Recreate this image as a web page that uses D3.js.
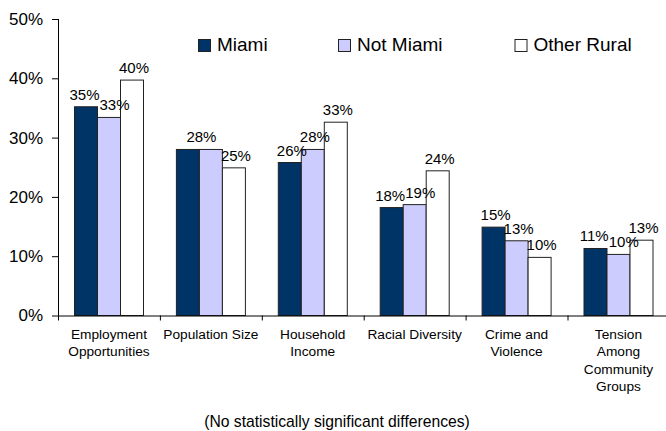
<!DOCTYPE html>
<html>
<head>
<meta charset="utf-8">
<script src="https://cdn.jsdelivr.net/npm/d3@7"></script>
<style>
  body { margin: 0; background: #fff; }
  text { font-family: "Liberation Sans", Arial, sans-serif; fill: #000; }
</style>
</head>
<body>
<div id="chart"></div>
<script>
(function() {
  var width = 666,
      height = 431;

  // chart data
  var categories = [
    ["Employment", "Opportunities"],
    ["Population Size"],
    ["Household", "Income"],
    ["Racial Diversity"],
    ["Crime and", "Violence"],
    ["Tension", "Among", "Community", "Groups"]
  ];
  var seriesNames = ["Miami", "Not Miami", "Other Rural"];
  var miami      = [35.2, 28.0, 25.8, 18.2, 14.9, 11.3];
  var notMiami   = [33.4, 28.0, 28.0, 18.7, 12.6, 10.3];
  var otherRural = [39.7, 24.9, 32.6, 24.4, 9.8, 12.7];
  var miamiLabels      = ["35%", "28%", "26%", "18%", "15%", "11%"];
  var notMiamiLabels   = ["33%", "28%", "28%", "19%", "13%", "10%"];
  var otherRuralLabels = ["40%", "25%", "33%", "24%", "10%", "13%"];
  var yTicks = [0, 10, 20, 30, 40, 50];
  var footnote = "(No statistically significant differences)";

  var colors = ["#003366", "#ccccff", "#ffffff"];
  var seriesValues = [miami, notMiami, otherRural];
  var seriesLabels = [miamiLabels, notMiamiLabels, otherRuralLabels];

  var svg = d3.select("#chart")
      .append("svg")
      .attr("width", width)
      .attr("height", height);

  var left = 58, top = 19, bottom = 315.5, step = 101.9;

  var x = d3.scaleBand()
      .domain(d3.range(categories.length))
      .range([left, left + step * categories.length])
      .padding(0);

  var xs = d3.scaleBand()
      .domain(d3.range(seriesNames.length))
      .range([16.5, 16.5 + 69])
      .padding(0);

  var y = d3.scaleLinear()
      .domain([0, 50])
      .range([bottom, top]);

  // y axis
  var yAxis = svg.append("g")
      .attr("transform", "translate(" + left + ",0)")
      .call(d3.axisLeft(y)
        .tickValues(yTicks)
        .tickSize(6)
        .tickPadding(9)
        .tickFormat(function(d) { return d + "%"; }));
  yAxis.select(".domain").attr("stroke", "#000").attr("d", "M0.5," + top + "V" + bottom);
  yAxis.selectAll(".tick line").attr("stroke", "#000");
  yAxis.selectAll(".tick text")
      .attr("font-size", "17px")
      .attr("font-family", "'Liberation Sans', Arial, sans-serif")
      .attr("fill", "#000");

  // bars
  var groups = svg.selectAll(".group")
      .data(categories)
      .enter().append("g")
      .attr("class", "group")
      .attr("transform", function(d, i) { return "translate(" + x(i) + ",0)"; });

  seriesNames.forEach(function(name, s) {
    groups.append("rect")
      .attr("x", function(d, i) { return xs(s); })
      .attr("y", function(d, i) { return y(seriesValues[s][i]); })
      .attr("width", xs.bandwidth())
      .attr("height", function(d, i) { return y(0) - y(seriesValues[s][i]); })
      .attr("fill", colors[s])
      .attr("stroke", "#222")
      .attr("stroke-width", 1);
  });

  // value labels, nudged apart like excel does when they collide
  groups.each(function(d, i) {
    var g = d3.select(this);
    var labs = [];
    seriesNames.forEach(function(name, s) {
      var prev = labs[labs.length - 1];
      if (prev && prev.text === seriesLabels[s][i] && prev.v === seriesValues[s][i]) {
        // same label on equal bars: excel shows one
        prev.cx = (prev.cx + xs(s) + xs.bandwidth() / 2) / 2 + 1;
        return;
      }
      labs.push({
        text: seriesLabels[s][i],
        v: seriesValues[s][i],
        cx: xs(s) + xs.bandwidth() / 2 + 2,
        by: y(seriesValues[s][i]) - 7
      });
    });
    var nodes = labs.map(function(l) {
      var t = g.append("text")
        .attr("text-anchor", "middle")
        .attr("font-size", "15px")
        .attr("y", l.by)
        .text(l.text);
      l.w = t.node().getComputedTextLength();
      l.node = t;
      return t;
    });
    for (var k = 1; k < labs.length; k++) {
      var a = labs[k - 1], b = labs[k];
      var overlap = (a.cx + a.w / 2) - (b.cx - b.w / 2);
      if (overlap > 0 && Math.abs(a.by - b.by) < 11) {
        a.cx -= overlap / 2;
        b.cx += overlap / 2;
      }
    }
    labs.forEach(function(l) { l.node.attr("x", l.cx); });
  });

  // x axis
  svg.append("line")
      .attr("x1", left).attr("x2", width)
      .attr("y1", bottom + 0.5).attr("y2", bottom + 0.5)
      .attr("stroke", "#000");

  svg.selectAll(".xtick")
      .data(d3.range(categories.length))
      .enter().append("line")
      .attr("class", "xtick")
      .attr("x1", function(i) { return x(i) + 0.5; })
      .attr("x2", function(i) { return x(i) + 0.5; })
      .attr("y1", bottom)
      .attr("y2", bottom + 5)
      .attr("stroke", "#000");

  groups.each(function(d) {
    var t = d3.select(this).append("text")
      .attr("text-anchor", "middle")
      .attr("font-size", "13.7px");
    d.forEach(function(line, j) {
      t.append("tspan")
        .attr("x", x.bandwidth() / 2)
        .attr("y", 339 + j * 17.3)
        .text(line);
    });
  });

  // legend
  var legendX = [198, 338, 514.5];
  var legend = svg.selectAll(".legend")
      .data(seriesNames)
      .enter().append("g")
      .attr("class", "legend")
      .attr("transform", function(d, i) { return "translate(" + legendX[i] + ",39)"; });
  legend.append("rect")
      .attr("x", 0.5).attr("y", 0.5)
      .attr("width", 12).attr("height", 12)
      .attr("fill", function(d, i) { return colors[i]; })
      .attr("stroke", "#222");
  legend.append("text")
      .attr("x", 19)
      .attr("y", 12)
      .attr("font-size", "19px")
      .text(function(d) { return d; });

  // footnote
  svg.append("text")
      .attr("x", 337)
      .attr("y", 427)
      .attr("text-anchor", "middle")
      .attr("font-size", "15.7px")
      .text(footnote);
})();
</script>
</body>
</html>
